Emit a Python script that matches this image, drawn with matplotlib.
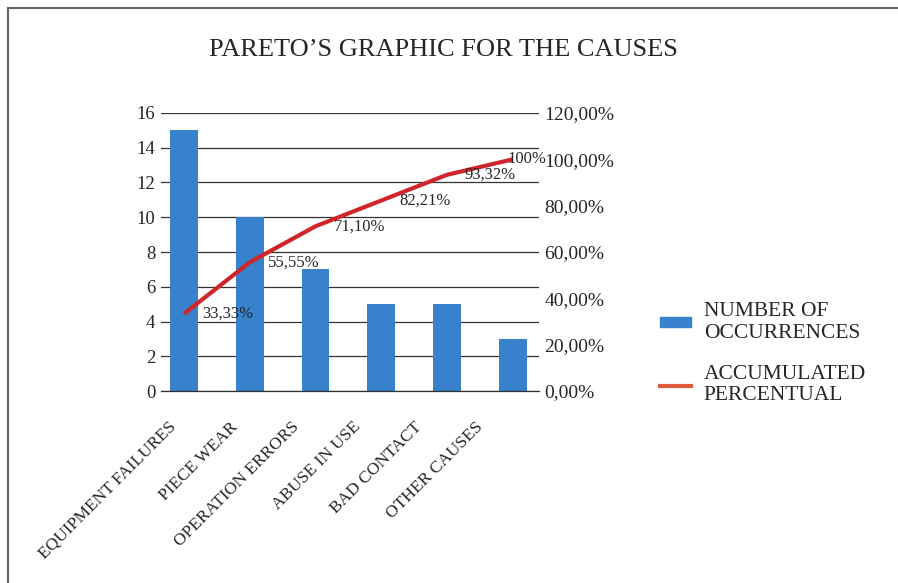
import matplotlib.pyplot as plt
from matplotlib.lines import Line2D
from matplotlib.patches import Patch
from matplotlib.transforms import ScaledTranslation

plt.rcParams['font.family'] = ['Liberation Serif', 'DejaVu Serif']

causes = ['EQUIPMENT FAILURES', 'PIECE WEAR', 'OPERATION ERRORS',
          'ABUSE IN USE', 'BAD CONTACT', 'OTHER CAUSES']
occurrences = [15, 10, 7, 5, 5, 3]
accumulated = [33.33, 55.55, 71.10, 82.21, 93.32, 100]
acc_labels = ['33,33%', '55,55%', '71,10%', '82,21%', '93,32%', '100%']
right_ticks = [0, 20, 40, 60, 80, 100, 120]
right_labels = ['0,00%', '20,00%', '40,00%', '60,00%', '80,00%', '100,00%', '120,00%']

bar_color = '#3781cd'
line_color = '#d0262b'
text_color = '#262626'

fig = plt.figure(figsize=(8.98, 5.83), dpi=100)
ax = fig.add_axes([0.1793, 0.3293, 0.6002 - 0.1793, 0.8062 - 0.3293])
x = list(range(len(causes)))

ax.bar(x, occurrences, width=0.425, color=bar_color, zorder=2)
ax.set_xlim(-0.35, 5.4)
ax.set_ylim(0, 16)
ax.set_yticks(range(0, 17, 2))
ax.grid(axis='y', color='#333333', linewidth=0.9, zorder=0)
for s in ['top', 'right', 'left']:
    ax.spines[s].set_visible(False)
ax.spines['bottom'].set_color('#333333')
ax.spines['bottom'].set_linewidth(0.9)
ax.tick_params(axis='y', length=0, pad=4, labelsize=13.5, labelcolor=text_color)
ax.set_xticks(x)
ax.set_xticklabels(causes, rotation=45, ha='right', va='top',
                   rotation_mode='anchor', fontsize=12.5, color=text_color)
ax.tick_params(axis='x', length=0, pad=20)
for i, lab in enumerate(ax.get_xticklabels()):
    lab.set_transform(lab.get_transform() +
                      ScaledTranslation((-16 - 4.3 * i) / 100, 0, fig.dpi_scale_trans))

ax2 = ax.twinx()
ax2.plot(x, accumulated, color=line_color, linewidth=3, solid_capstyle='butt', zorder=3)
ax2.set_ylim(0, 120)
ax2.set_yticks(right_ticks)
ax2.set_yticklabels(right_labels)
for s in ax2.spines.values():
    s.set_visible(False)
ax2.tick_params(axis='y', length=0, pad=4, labelsize=14, labelcolor=text_color)

for i, (xi, yi, t) in enumerate(zip(x, accumulated, acc_labels)):
    dx = 18 if i < len(x) - 1 else -5
    ax2.annotate(t, (xi, yi), xytext=(dx * 0.72, 0), textcoords='offset points',
                 ha='left', va='center', fontsize=12, color=text_color, zorder=4)

fig.text(0.494, 1 - 56 / 583, 'PARETO\u2019S GRAPHIC FOR THE CAUSES', ha='center',
         va='baseline', fontsize=19, color=text_color)

handles = [Patch(color=bar_color), Line2D([0], [0], color='#e05a40', linewidth=3)]
fig.legend(handles, ['NUMBER OF\nOCCURRENCES', 'ACCUMULATED\nPERCENTUAL'],
           loc='center left', bbox_to_anchor=(0.713, 0.393), frameon=False,
           fontsize=15.5, labelcolor=text_color, handlelength=1.45, handleheight=0.35,
           handletextpad=0.6, labelspacing=1.0)

# frame edges of the cropped picture
fig.add_artist(Line2D([8 / 898, 1], [1 - 8 / 583, 1 - 8 / 583], color='#666666', linewidth=1.5))
fig.add_artist(Line2D([8 / 898, 8 / 898], [0, 1 - 8 / 583], color='#666666', linewidth=1.5))

fig.savefig('out.png', dpi=100)
